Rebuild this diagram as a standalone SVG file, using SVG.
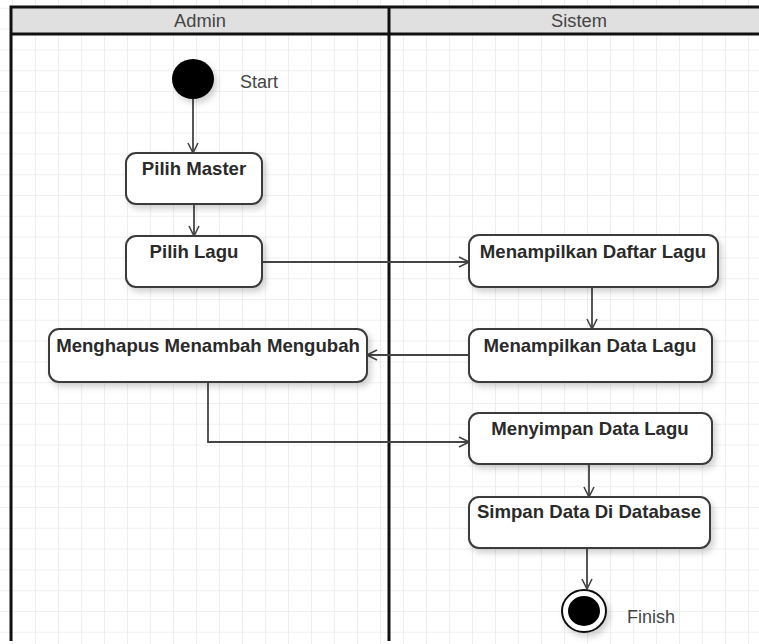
<svg xmlns="http://www.w3.org/2000/svg" width="759" height="644" viewBox="0 0 759 644">
<style>
.box{fill:#fff;stroke:#3a3a3a;stroke-width:2;filter:url(#sh)}
.lbl{font-family:"Liberation Sans",Arial,sans-serif;font-size:18.6px;font-weight:bold;fill:#2a2a2a;text-anchor:middle}
.plain{font-family:"Liberation Sans",Arial,sans-serif;font-size:18px;fill:#444}
.hdr{font-family:"Liberation Sans",Arial,sans-serif;font-size:18.3px;fill:#444;text-anchor:middle}
.conn{fill:none;stroke:#444;stroke-width:1.8;marker-end:url(#arr)}
.lane{stroke:#111;stroke-width:3;fill:none}
</style>
<defs>
<pattern id="grid" x="12" y="7.8" width="23" height="20.8" patternUnits="userSpaceOnUse">
<path d="M0,0 H23 M0,0 V20.8" fill="none" stroke="#e2e2e2" stroke-width="1.2"/>
</pattern>
<filter id="sh" x="-10%" y="-20%" width="130%" height="160%">
<feDropShadow dx="3" dy="4" stdDeviation="3" flood-color="#000" flood-opacity="0.18"/>
</filter>
<marker id="arr" viewBox="0 0 12 12" refX="11" refY="6" markerWidth="12" markerHeight="12" markerUnits="userSpaceOnUse" orient="auto">
<path d="M1,1 L11,6 L1,11" fill="none" stroke="#444" stroke-width="1.6"/>
</marker>
</defs>
<rect width="759" height="644" fill="#fff"/>
<rect width="759" height="644" fill="url(#grid)"/>
<g id="lanes">
<rect x="11" y="7" width="760" height="27" fill="#e0e0e0"/>
<path class="lane" d="M11,641 V7 H770 M11,34 H770 M389,7 V641"/>
<text class="hdr" x="200" y="27">Admin</text>
<text class="hdr" x="579" y="27">Sistem</text>
</g>
<g id="connectors">
<path class="conn" d="M193,99 V153"/>
<path class="conn" d="M194,204 V236"/>
<path class="conn" d="M262,262 H469"/>
<path class="conn" d="M592,287 V329"/>
<path class="conn" d="M469,355 H367"/>
<path class="conn" d="M208,382 V442 H469"/>
<path class="conn" d="M589,464 V497"/>
<path class="conn" d="M587,548 V589"/>
</g>
<g id="start">
<ellipse cx="193" cy="79" rx="21" ry="20" fill="#000" filter="url(#sh)"/>
<text class="plain" x="240" y="88">Start</text>
</g>
<g id="pilih-master">
<rect class="box" x="126" y="153" width="136" height="51" rx="10"/>
<text class="lbl" x="194" y="175">Pilih Master</text>
</g>
<g id="pilih-lagu">
<rect class="box" x="126" y="236" width="136" height="51" rx="10"/>
<text class="lbl" x="194" y="258">Pilih Lagu</text>
</g>
<g id="menghapus">
<rect class="box" x="49" y="329" width="318" height="53" rx="10"/>
<text class="lbl" x="208" y="352">Menghapus Menambah Mengubah</text>
</g>
<g id="menampilkan-daftar">
<rect class="box" x="469" y="235" width="249" height="52" rx="10"/>
<text class="lbl" x="593" y="258">Menampilkan Daftar Lagu</text>
</g>
<g id="menampilkan-data">
<rect class="box" x="469" y="329" width="243" height="53" rx="10"/>
<text class="lbl" x="590" y="352">Menampilkan Data Lagu</text>
</g>
<g id="menyimpan">
<rect class="box" x="469" y="413" width="243" height="51" rx="10"/>
<text class="lbl" x="590" y="435">Menyimpan Data Lagu</text>
</g>
<g id="simpan-db">
<rect class="box" x="469" y="497" width="241" height="51" rx="10"/>
<text class="lbl" x="589" y="518">Simpan Data Di Database</text>
</g>
<g id="finish">
<ellipse cx="584" cy="611" rx="22" ry="21" fill="#fff" stroke="#111" stroke-width="2" filter="url(#sh)"/>
<ellipse cx="584" cy="611" rx="16" ry="15" fill="#000"/>
<text class="plain" x="627" y="623">Finish</text>
</g>
</svg>
